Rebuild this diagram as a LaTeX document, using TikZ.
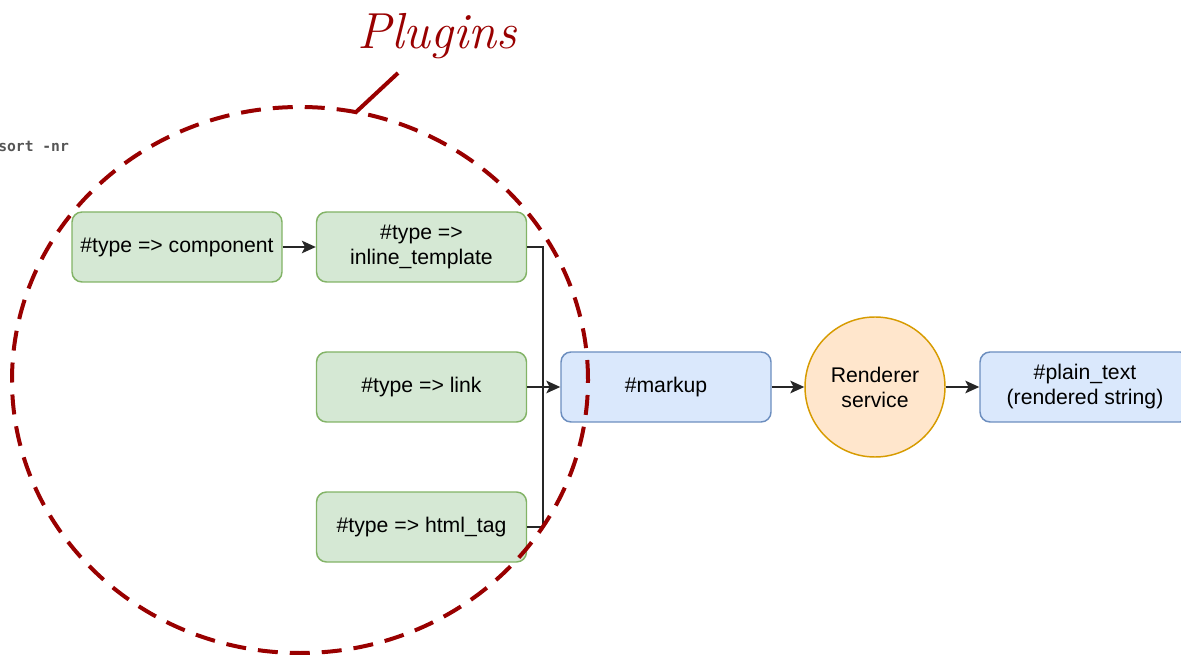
\documentclass[tikz,border=0pt]{standalone}
\usepackage{fontspec}
\setmainfont{Liberation Sans}
\newfontfamily\monofont{DejaVu Sans Mono}
\newfontfamily\handfont{Latin Modern Roman}
\usetikzlibrary{arrows.meta}
\definecolor{gfill}{HTML}{D5E8D4}
\definecolor{gdraw}{HTML}{82B366}
\definecolor{bfill}{HTML}{DAE8FC}
\definecolor{bdraw}{HTML}{6C8EBF}
\definecolor{ofill}{HTML}{FFE6CC}
\definecolor{odraw}{HTML}{D79B00}
\definecolor{plug}{HTML}{990000}
\definecolor{code}{HTML}{555555}
\tikzset{
  box/.style={rounded corners=7.5pt, line width=1.1pt, minimum width=157.5pt, minimum height=52.5pt,
    align=center, font=\fontsize{15.9}{18.75}\selectfont, inner sep=0pt},
  gbox/.style={box, fill=gfill, draw=gdraw},
  bbox/.style={box, fill=bfill, draw=bdraw},
  conn/.style={line width=1.1pt, draw=black!85},
  arr/.style={conn, -{Stealth[length=10.5pt,width=9.5pt,inset=2.5pt]}},
}
\begin{document}
\begin{tikzpicture}[x=0.75pt,y=-0.75pt]
\useasboundingbox (0,0) rectangle (1181,655);
\clip (0,0) rectangle (1181,655);
\node[anchor=west, text=code, font=\monofont\bfseries\fontsize{11}{13}\selectfont, inner sep=0pt] (sortnr) at (-2,146) {sort -nr};

\node[gbox] (comp) at (177,247) {\#type => component};
\node[gbox] (inl) at (421.5,247) {\#type =>\\inline\_template};
\node[gbox] (link) at (421.5,387) {\#type => link};
\node[gbox] (html) at (421.5,527) {\#type => html\_tag};
\node[bbox] (markup) at (666,387) {\#markup};
\node[circle, fill=ofill, draw=odraw, line width=1.1pt, minimum size=105pt, inner sep=0pt, align=center,
  font=\fontsize{15.9}{18.75}\selectfont] (rend) at (875,387) {Renderer\\service};
\node[bbox] (plain) at (1085,387) {\#plain\_text\\(rendered string)};

\coordinate (join) at (543,387);
\draw[arr] (comp) -- (inl);
\draw[conn] (inl.east) -| (join);
\draw[conn] (html.east) -| (join);
\draw[arr] (link) -- (markup);
\draw[arr] (markup) -- (rend);
\draw[arr] (rend) -- (plain);

\draw[plug, line width=3pt, dash pattern=on 15pt off 9pt] (300,380) ellipse [x radius=216pt, y radius=204.75pt];
\coordinate (ptail) at (355,113);
\coordinate (phead) at (398,73);
\node[text=plug, font=\handfont\itshape\fontsize{38}{44}\selectfont, inner sep=0pt] (plugins) at (437,36) {Plugins};
\draw[plug, line width=3pt] (ptail) -- (phead);
\end{tikzpicture}
\end{document}
